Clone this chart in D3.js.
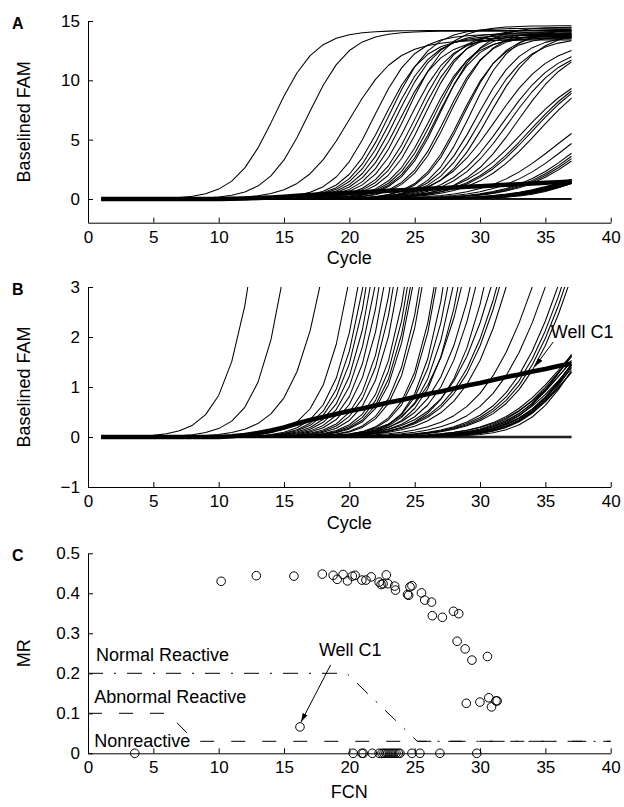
<!DOCTYPE html>
<html>
<head>
<meta charset="utf-8">
<script src="https://cdn.jsdelivr.net/npm/d3@7"></script>
<style>
  body { margin: 0; background: #fff; }
  svg { display: block; font-family: "Liberation Sans", Arial, Helvetica, sans-serif; }
  .axis path, .axis line { stroke: #000; stroke-width: 1; }
  .axis text { font-family: "Liberation Sans", Arial, Helvetica, sans-serif; font-size: 17px; fill: #000; }
  .label { font-size: 18px; fill: #000; }
  .panel { font-size: 16px; font-weight: bold; fill: #000; }
</style>
</head>
<body>
<div id="chart"></div>
<script>

// cycles measured on the instrument
var cycles = [1,2,3,4,5,6,7,8,9,10,11,12,13,14,15,16,17,18,19,20,21,22,23,24,25,26,27,28,29,30,31,32,33,34,35,36,37];
var xTicks = [0,5,10,15,20,25,30,35,40];

var wellMid = [14.3,16.85,20.0,21.9,22.65,23.1,23.3,23.65,23.9,24.4,24.65,25.15,25.4,25.8,26.2,26.5,26.7,26.95,27.4,27.65,28.5,28.7,29.25,29.75,30.15,30.7,
  31.2,31.8,32.2,32.9, 33.3,33.8,34.0,34.5, 35.8,36.8,37.75,38.05,38.3,38.55,
  36.6,36.8,37.0,37.2,36.9,37.4,37.1,36.7,37.6,37.3,36.5,37.8,37.0,37.5,36.9];
var wellRate = [1.55,1.55,1.8,1.55,1.55,1.55,1.55,1.55,1.55,1.55,1.55,1.55,1.55,1.55,1.55,1.55,1.55,1.55,1.55,1.55,1.55,1.55,1.55,1.7,1.75,1.8,
  2.1,2.1,2.1,2.1, 2.4,2.4,2.4,2.4, 2.6,2.6,2.6,2.6,2.6,2.6,
  2.0,2.2,2.1,2.4,1.9,2.3,2.0,2.5,2.2,1.8,2.3,2.4,2.6,2.0,2.3];
var wellMax = [14.2,14.15,13.4,13.9,13.6,14.4,13.8,14.0,13.5,14.6,13.7,14.1,13.9,14.3,13.6,14.0,13.8,14.5,13.9,14.2,13.7,14.0,14.3,13.8,13.6,14.1,
  13.3,13.0,12.9,13.2, 11.3,11.5,11.45,11.5, 9,9,9,9,9,9,
  3.0,3.1,2.9,3.2,2.8,3.0,3.0,3.1,3.0,2.9,2.9,3.1,3.0,3.2,2.8];

// wells that stay flat
var flatWells = [0.015, 0, -0.015];

// well C1 (thick trace)
var wellC1 = [0,0,0,0,0,0,0,0,0,0,0.015,0.04,0.08,0.13,0.19,0.27,0.34,0.40,0.46,0.52,0.57,0.63,0.69,0.74,0.80,0.86,0.91,0.97,1.03,1.08,1.14,1.20,1.25,1.31,1.36,1.42,1.47];

// panel C scatter: FCN vs MR
var fcnValues = [10.19,12.88,15.76,17.93,18.76,19.07,19.52,19.86,20.23,20.44,20.96,21.27,21.67,22.28,22.43,22.58,22.83,22.95,23.47,23.53,
  24.45,24.54,24.64,24.79,25.52,25.77,26.29,26.35,27.12,27.97,28.37,28.25,28.86,29.38,30.57,28.95,29.99,30.67,30.88,31.22,31.31,16.22,
  3.58,20.29,20.96,21.06,21.76,22.28,22.49,22.65,22.80,22.95,23.11,23.26,23.41,23.57,23.75,23.87,24.79,25.40,26.93,29.75];
var mrValues = [0.430,0.444,0.443,0.448,0.445,0.435,0.447,0.431,0.443,0.445,0.433,0.433,0.441,0.428,0.422,0.424,0.446,0.424,0.418,0.408,
  0.397,0.395,0.416,0.419,0.401,0.383,0.378,0.344,0.340,0.355,0.349,0.280,0.261,0.233,0.242,0.125,0.128,0.139,0.116,0.131,0.131,0.066,
  0,0,0,0,0,0,0,0,0,0,0,0,0,0,0,0,0,0,0,0];

// classification boundaries
var normalBoundary = [[0,0.2],[19.8,0.2],[25.2,0.03],[40,0.03]];
var abnormalBoundary = [[0,0.1],[6.1,0.1],[8.2,0.03],[40,0.03]];

var svg = d3.select("#chart").append("svg")
  .attr("width", 624)
  .attr("height", 807);

svg.append("defs").append("marker")
  .attr("id", "head")
  .attr("viewBox", "0 0 10 6")
  .attr("refX", 10)
  .attr("refY", 3)
  .attr("markerUnits", "userSpaceOnUse")
  .attr("markerWidth", 9)
  .attr("markerHeight", 5.5)
  .attr("orient", "auto")
  .append("path")
  .attr("d", "M0,0L10,3L0,6Z")
  .attr("fill", "#000");

var x = d3.scaleLinear().domain([0, 40]).range([88, 610.7]);

// plain tick text, real minus sign
var tickText = d => String(d).replace("-", "\u2212");

var panels = [
  {id: "A", top: 21, bottom: 222.7, domain: [-2, 15], ticks: [0, 5, 10, 15], ylabel: "Baselined FAM", xlabel: "Cycle", xlabelY: 264},
  {id: "B", top: 287, bottom: 487, domain: [-1, 3], ticks: [-1, 0, 1, 2, 3], ylabel: "Baselined FAM", xlabel: "Cycle", xlabelY: 529},
  {id: "C", top: 553.3, bottom: 753.3, domain: [0, 0.5], ticks: [0, 0.1, 0.2, 0.3, 0.4, 0.5], ylabel: "MR", xlabel: "FCN", xlabelY: 798}
];

function drawAxes(p) {
  var y = d3.scaleLinear().domain(p.domain).range([p.bottom, p.top]);

  svg.append("g")
    .attr("class", "axis")
    .attr("transform", `translate(0, ${p.bottom})`)
    .call(d3.axisBottom(x).tickValues(xTicks).tickFormat(tickText)
      .tickSizeInner(-5).tickSizeOuter(0).tickPadding(8));

  svg.append("g")
    .attr("class", "axis")
    .attr("transform", `translate(${x(0)}, 0)`)
    .call(d3.axisLeft(y).tickValues(p.ticks).tickFormat(tickText)
      .tickSizeInner(-5).tickSizeOuter(0).tickPadding(8));

  svg.append("text")
    .attr("class", "label")
    .attr("transform", `translate(30, ${(p.top + p.bottom) / 2}) rotate(-90)`)
    .attr("text-anchor", "middle")
    .text(p.ylabel);

  svg.append("text")
    .attr("class", "label")
    .attr("x", (x(0) + x(40)) / 2)
    .attr("y", p.xlabelY)
    .attr("text-anchor", "middle")
    .text(p.xlabel);

  svg.append("text")
    .attr("class", "panel")
    .attr("x", 12)
    .attr("y", p.top + 7.5)
    .text(p.id);

  return y;
}

// build traces
var traces = wellMid.map(function(m, i) {
  var f = c => wellMax[i] / (1 + Math.exp(-(c - m) / wellRate[i]));
  var base = f(cycles[0]);
  return cycles.map(c => f(c) - base);
});
flatWells.forEach(function(v) {
  traces.push(cycles.map(() => v));
});

function drawCurves(p, y) {
  var clipId = "clip" + p.id;
  svg.append("clipPath").attr("id", clipId)
    .append("rect")
    .attr("x", x(0))
    .attr("y", p.top)
    .attr("width", x(40) - x(0))
    .attr("height", p.bottom - p.top);

  var line = d3.line()
    .x((d, i) => x(cycles[i]))
    .y(d => y(d));

  var g = svg.append("g").attr("clip-path", `url(#${clipId})`);

  g.selectAll("path.well")
    .data(traces)
    .enter()
    .append("path")
    .attr("class", "well")
    .attr("d", line)
    .attr("fill", "none")
    .attr("stroke", "#000")
    .attr("stroke-width", 1.05)
    .attr("stroke-linejoin", "round");

  g.append("path")
    .attr("d", line(wellC1))
    .attr("fill", "none")
    .attr("stroke", "#000")
    .attr("stroke-width", 4.5)
    .attr("stroke-linejoin", "round");
}

function arrow(x1, y1, x2, y2) {
  svg.append("line")
    .attr("x1", x1).attr("y1", y1)
    .attr("x2", x2).attr("y2", y2)
    .attr("stroke", "#000")
    .attr("stroke-width", 1)
    .attr("marker-end", "url(#head)");
}

// panel A
var yA = drawAxes(panels[0]);
drawCurves(panels[0], yA);

// panel B
var yB = drawAxes(panels[1]);
drawCurves(panels[1], yB);

svg.append("text")
  .attr("class", "label")
  .attr("x", x(35.42))
  .attr("y", yB(1.98))
  .text("Well C1");
arrow(x(35.6), yB(1.9), x(34.2), yB(1.41));

// panel C
var yC = drawAxes(panels[2]);

var boundLine = d3.line()
  .x(d => x(d[0]))
  .y(d => yC(d[1]));

svg.append("path")
  .attr("d", boundLine(normalBoundary))
  .attr("fill", "none")
  .attr("stroke", "#000")
  .attr("stroke-width", 1)
  .attr("stroke-dasharray", "15,11,2,11");

svg.append("path")
  .attr("d", boundLine(abnormalBoundary))
  .attr("fill", "none")
  .attr("stroke", "#000")
  .attr("stroke-width", 1)
  .attr("stroke-dasharray", "14,17");

svg.selectAll("circle.pt")
  .data(fcnValues)
  .enter()
  .append("circle")
  .attr("class", "pt")
  .attr("cx", d => x(d))
  .attr("cy", (d, i) => yC(mrValues[i]))
  .attr("r", 4.3)
  .attr("fill", "none")
  .attr("stroke", "#000")
  .attr("stroke-width", 1);

svg.append("text").attr("class", "label")
  .attr("x", x(0.61)).attr("y", yC(0.2315))
  .text("Normal Reactive");
svg.append("text").attr("class", "label")
  .attr("x", x(0.48)).attr("y", yC(0.126))
  .text("Abnormal Reactive");
svg.append("text").attr("class", "label")
  .attr("x", x(0.48)).attr("y", yC(0.0165))
  .text("Nonreactive");
svg.append("text").attr("class", "label")
  .attr("x", x(17.67)).attr("y", yC(0.243))
  .text("Well C1");
arrow(x(18.57), yC(0.221), x(16.3), yC(0.078));

</script>
</body>
</html>
